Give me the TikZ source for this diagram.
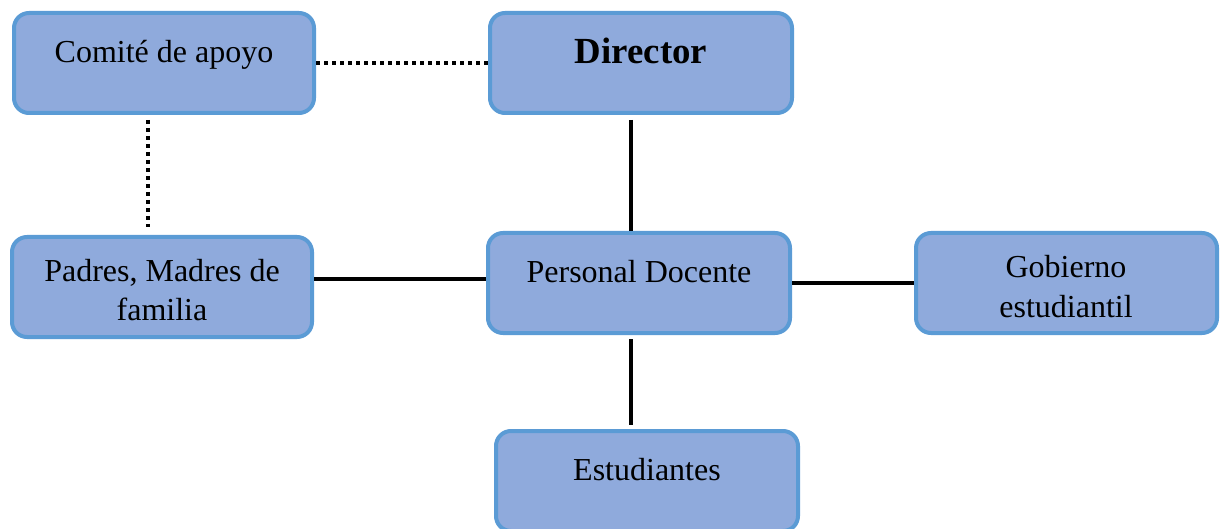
\documentclass[tikz,border=0pt]{standalone}
\usepackage{fontspec}
\setmainfont{Liberation Serif}
\definecolor{boxfill}{HTML}{8FAADC}
\definecolor{boxline}{HTML}{5B9BD5}
\begin{document}
\begin{tikzpicture}[x=0.5pt,y=-0.5pt,
  orgbox/.style={draw=boxline,fill=boxfill,line width=2pt,rounded corners=7.5pt,
    minimum width=150pt,minimum height=50pt,inner sep=0pt},
  boxtext/.style={anchor=base,font=\fontsize{16}{20}\selectfont,inner sep=0pt},
  solidlink/.style={line width=1.8pt,black},
  dotlink/.style={line width=2pt,black,dash pattern=on 2pt off 2pt}]
\useasboundingbox (0,0) rectangle (1220,529);
% boxes
\node[orgbox] (com) at (164,63) {};
\node[orgbox,minimum width=151pt] (dir) at (641,63) {};
\node[orgbox] (pad) at (162,287) {};
\node[orgbox,minimum width=151pt] (per) at (639,283) {};
\node[orgbox,minimum width=150.5pt] (gob) at (1066.5,283) {};
\node[orgbox,minimum width=151pt] (est) at (647,481) {};
% texts
\node[boxtext] (tcom) at (164,63) {Comité de apoyo};
\node[boxtext,font=\fontsize{18.4}{22}\selectfont\bfseries] (tdir) at (641,64) {Director};
\node[boxtext] (tpad1) at (162,281) {Padres, Madres de};
\node[boxtext] (tpad2) at (162,321) {familia};
\node[boxtext] (tper) at (639,282) {Personal Docente};
\node[boxtext] (tgob1) at (1066,278) {Gobierno};
\node[boxtext] (tgob2) at (1066,317) {estudiantil};
\node[boxtext] (test) at (647,480) {Estudiantes};
% connectors
\draw[dotlink] (com.east) -- (dir.west);
\draw[dotlink] ([xshift=-8pt,yshift=-2.5pt]com.south) -- ([xshift=-7pt,yshift=4pt]pad.north);
\draw[solidlink] ([xshift=-5pt,yshift=-2.5pt]dir.south) -- ([xshift=-4pt]per.north);
\draw[solidlink] ([yshift=4pt]pad.east) -- ([yshift=2pt]per.west);
\draw[solidlink] (per.east) -- (gob.west);
\draw[solidlink] ([xshift=-4pt,yshift=-2pt]per.south) -- ([xshift=-8pt,yshift=2pt]est.north);
\end{tikzpicture}
\end{document}
